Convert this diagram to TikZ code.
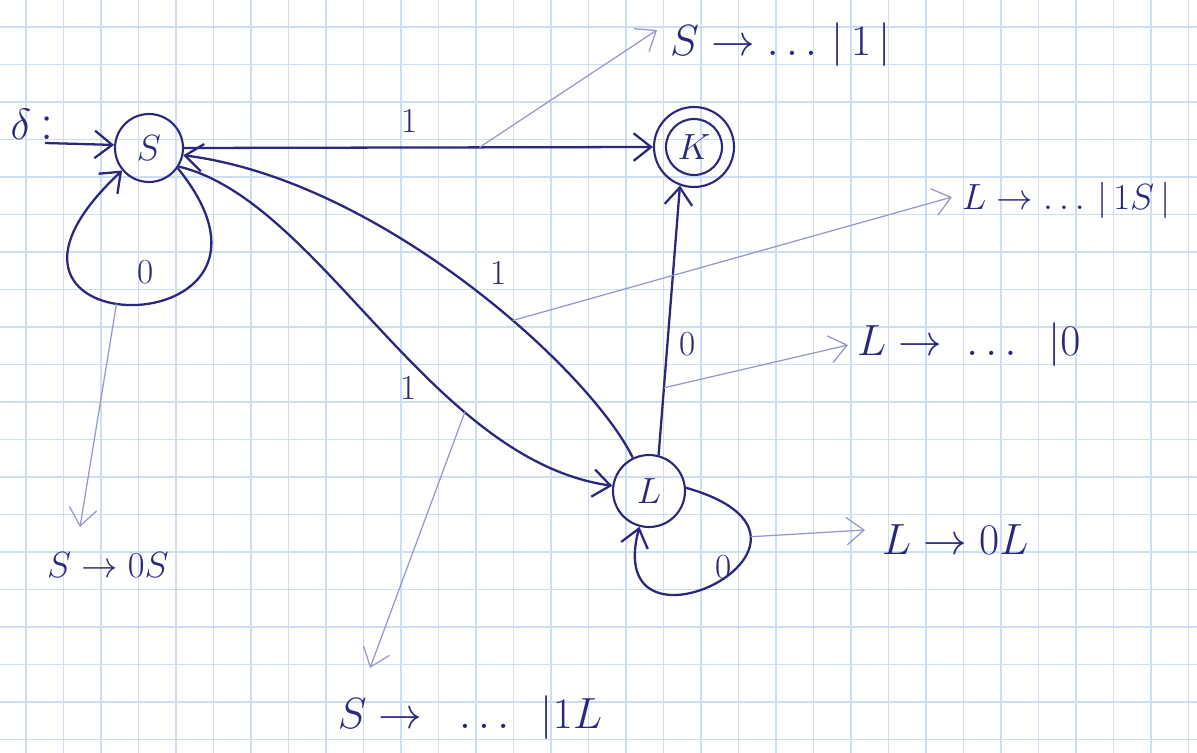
\documentclass[tikz,border=0pt]{standalone}
\usetikzlibrary{arrows.meta}
\definecolor{ink}{RGB}{42,40,125}
\definecolor{faint}{RGB}{150,150,205}
\definecolor{gridblue}{RGB}{205,222,242}
\begin{document}
\begin{tikzpicture}[x=0.02cm,y=-0.02cm,
  state/.style={circle, draw=ink, line width=1.2pt, inner sep=0pt, text=ink, font=\fontsize{22}{26}\selectfont},
  edge/.style={draw=ink, line width=1.3pt, -{Straight Barb[length=3.5mm,width=5.5mm]}},
  note/.style={draw=faint, line width=0.7pt, -{Straight Barb[length=3.5mm,width=5.5mm]}},
  lbl/.style={text=ink, inner sep=1pt, font=\fontsize{20}{24}\selectfont},
  notetext/.style={text=ink, inner sep=1pt, font=\fontsize{25}{30}\selectfont}]
\useasboundingbox (0,0) rectangle (1197,753);
\fill[white] (0,0) rectangle (1197,753);
\foreach \i in {0,...,31} \draw[gridblue, line width=0.6pt] (26+37.5*\i,0) -- (26+37.5*\i,753);
\foreach \j in {0,...,19} \draw[gridblue, line width=0.6pt] (0,27+37.5*\j) -- (1197,27+37.5*\j);

% states
\node[state, minimum size=1.36cm] (S) at (149,148) {$S$};
\node[state, minimum size=1.6cm] (K) at (694,147) {$K$};
\draw[ink, line width=1.2pt] (K.center) circle[radius=0.56cm];
\node[state, minimum size=1.44cm] (L) at (649,491) {$L$};
\node[text=ink, font=\fontsize{30}{34}\selectfont] (delta) at (32,124) {$\delta$\,:};

% transitions
\coordinate (init) at (45,143);
\draw[edge] (init) -- (S.175);
\draw[edge] (S.east) -- coordinate[pos=0.63] (a1) node[lbl, pos=0.48, above=7pt] {1} (K.west);
\draw[edge] (L) .. controls (590,370) and (380,180) .. coordinate[pos=0.4] (a2) node[lbl, pos=0.47, above right=4pt] {1} (S.-12);
\draw[edge] (S.-32) .. controls (320,200) and (430,460) .. coordinate[pos=0.7] (a3) node[lbl, pos=0.6, below left=1pt] {1} (L);
\draw[edge] (L.75) -- coordinate[pos=0.25] (a4) node[lbl, pos=0.41, right=5pt] {0} (K.250);
\draw[edge] (S.-35) .. controls (325,350) and (-70,350) .. coordinate[pos=0.55] (a5) node[lbl, pos=0.5, above=10pt, xshift=7pt] {0} (S.-140);
\draw[edge] (L.5) .. controls (870,540) and (600,675) .. coordinate[pos=0.25] (a6) node[lbl, pos=0.4, left=2pt] {0} (L.-105);

% productions
\coordinate (n1) at (80,527);
\coordinate (n2) at (657,30);
\coordinate (n3) at (952,197);
\coordinate (n4) at (848,345);
\coordinate (n5) at (865,530);
\coordinate (n6) at (370,668);
\draw[note] (a5) -- (n1);
\draw[note] (a1) -- (n2);
\draw[note] (a2) -- (n3);
\draw[note] (a4) -- (n4);
\draw[note] (a6) -- (n5);
\draw[note] (a3) -- (n6);
\node[notetext, font=\fontsize{21}{25}\selectfont] (t1) at (108,565) {$S \to 0S$};
\node[notetext, anchor=west] (t2) at (668,45) {$S \to \ldots\,|\,1\,|$};
\node[notetext, anchor=west, font=\fontsize{22}{26}\selectfont] (t3) at (960,200) {$L \to \ldots\,|\,1S\,|$};
\node[notetext, anchor=west] (t4) at (855,345) {$L \to \;\ldots\;\; |0$};
\node[notetext, anchor=west] (t5) at (880,540) {$L \to 0L$};
\node[notetext] (t6) at (470,718) {$S \to \;\;\ldots\;\; |1L$};
\end{tikzpicture}
\end{document}
